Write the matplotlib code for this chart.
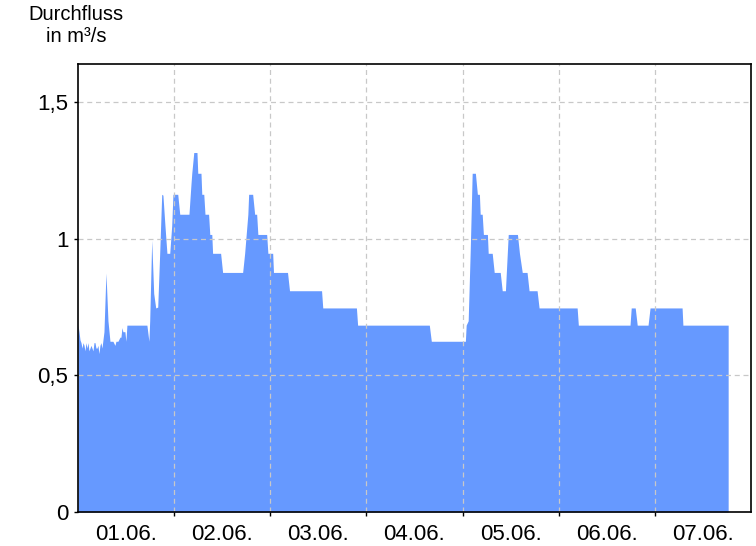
import matplotlib
matplotlib.use("Agg")
import matplotlib.pyplot as plt
import numpy as np

# Time in hours since 01.06. 00:00, discharge in m³/s
hours = [0, 0.25, 0.5, 0.75, 1.0, 1.25, 1.5, 1.74, 1.99, 2.24, 2.49, 2.74, 2.99, 3.24,
         3.49, 3.74, 3.99, 4.24, 4.49, 4.74, 4.98, 5.23, 5.48, 5.73, 5.98, 6.23, 6.48,
         6.98, 7.48, 7.98, 8.72, 9.22, 9.47, 9.97, 10.47, 10.72, 10.97, 11.21, 11.71,
         11.96, 12.21, 17.2, 17.7, 17.9, 18.4, 18.9, 19.4, 19.9, 20.4, 20.9, 21.2, 21.7,
         22.2, 22.9, 23.4, 23.7, 24.9, 25.4, 27.7, 28.2, 28.4, 28.9, 29.7, 29.9, 30.7,
         30.9, 31.4, 31.7, 32.6, 32.9, 33.4, 33.6, 35.6, 36.1, 41.1, 41.6, 42.4, 42.6,
         43.6, 44.1, 44.6, 44.9, 47.1, 47.4, 48.6, 48.8, 52.3, 52.8, 60.8, 61.1, 69.5,
         69.8, 87.7, 88.2, 96.7, 96.9, 97.4, 97.9, 98.4, 99.2, 99.7, 100.2, 100.4, 100.9,
         101.2, 102.2, 102.4, 103.4, 103.9, 105.4, 105.9, 106.7, 106.9, 107.4, 109.7,
         110.2, 110.9, 112.1, 112.6, 114.6, 115.1, 124.6, 124.9, 137.8, 138.1, 139.1,
         139.6, 142.3, 142.8, 150.8, 151.0, 162.3]
flow = [0.684, 0.66, 0.63, 0.62, 0.60, 0.62, 0.61, 0.59, 0.62, 0.60, 0.62, 0.59, 0.60,
        0.61, 0.60, 0.59, 0.62, 0.62, 0.60, 0.60, 0.61, 0.58, 0.61, 0.62, 0.60, 0.63,
        0.66, 0.875, 0.70, 0.625, 0.625, 0.61, 0.625, 0.625, 0.64, 0.64, 0.675, 0.66,
        0.66, 0.625, 0.684, 0.684, 0.625, 0.70, 0.995, 0.80, 0.747, 0.75, 0.95, 1.163,
        1.16, 1.05, 0.947, 0.947, 1.05, 1.163, 1.163, 1.09, 1.09, 1.20, 1.24, 1.316,
        1.316, 1.24, 1.24, 1.163, 1.163, 1.09, 1.09, 1.016, 1.016, 0.947, 0.947, 0.877,
        0.877, 0.947, 1.09, 1.163, 1.163, 1.09, 1.09, 1.016, 1.016, 0.947, 0.947, 0.877,
        0.877, 0.81, 0.81, 0.747, 0.747, 0.684, 0.684, 0.625, 0.625, 0.684, 0.70, 0.95,
        1.24, 1.24, 1.163, 1.163, 1.09, 1.09, 1.016, 1.016, 0.947, 0.947, 0.877, 0.877,
        0.81, 0.81, 0.87, 1.016, 1.016, 0.947, 0.877, 0.877, 0.81, 0.81, 0.747, 0.747,
        0.684, 0.684, 0.747, 0.747, 0.684, 0.684, 0.747, 0.747, 0.684, 0.684]

day_labels = ["01.06.", "02.06.", "03.06.", "04.06.", "05.06.", "06.06.", "07.06."]
y_ticks = [0, 0.5, 1.0, 1.5]
y_tick_labels = ["0", "0,5", "1", "1,5"]

plt.rcParams['font.family'] = ['Liberation Sans', 'DejaVu Sans']

fig = plt.figure(figsize=(7.56, 5.46), dpi=100)
ax = fig.add_axes([78/756, 1 - 512/546, (751-78)/756, (512-64)/546])

x = np.array(hours) / 24.0
ax.fill_between(x, 0, flow, color='#6699ff', linewidth=0, zorder=1)

ax.set_xlim(0, 7)
ax.set_ylim(0, 1.64)

ax.set_xticks(np.arange(1, 7))
ax.set_xticklabels([])
ax.set_xticks(np.arange(len(day_labels)) + 0.5, minor=True)
ax.set_xticklabels(day_labels, minor=True, fontsize=16)
ax.tick_params(axis='x', which='minor', length=0, pad=9)
ax.tick_params(axis='x', which='major', length=3, direction='out', width=1)

ax.set_yticks(y_ticks)
ax.set_yticklabels(y_tick_labels, fontsize=16)
ax.tick_params(axis='y', length=3, direction='out', width=1, pad=4)

ax.grid(True, which='major', color='#c8c8c8', linestyle=(0, (4, 3)), linewidth=0.9, zorder=2)
ax.set_axisbelow(False)
for s in ax.spines.values():
    s.set_linewidth(1.2)
    s.set_zorder(3)

fig.text(76/756, 1 - 14/546, "Durchfluss", ha='center', va='center', fontsize=14.5)
fig.text(76/756, 1 - 36/546, "in m³/s", ha='center', va='center', fontsize=14.5)

fig.savefig("out.png", dpi=100)
